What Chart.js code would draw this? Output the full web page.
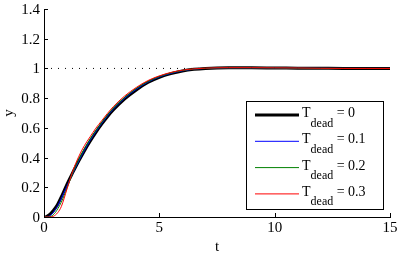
<!DOCTYPE html>
<html>
<head>
<meta charset="utf-8">
<script src="https://cdn.jsdelivr.net/npm/chart.js@4/dist/chart.umd.min.js"></script>
<style>
  html, body { margin: 0; padding: 0; background: #fff; }
  #wrap { width: 399px; height: 255px; }
</style>
</head>
<body>
<div id="wrap"><canvas id="c" width="399" height="255"></canvas></div>
<script>
// ---- data ----
const tValues = [0, 0.1, 0.2, 0.3, 0.4, 0.5, 0.6, 0.75, 1, 1.25, 1.5, 1.75, 2, 2.25, 2.5, 2.75, 3, 3.5, 4, 4.5, 5, 5.5, 6, 6.5, 7, 8, 9, 10, 11, 12, 13, 14, 15];
const yDead0  = [0, 0.003, 0.012, 0.025, 0.042, 0.063, 0.088, 0.135, 0.222, 0.3, 0.375, 0.445, 0.51, 0.57, 0.625, 0.675, 0.72, 0.795, 0.855, 0.905, 0.94, 0.965, 0.983, 0.994, 1.0, 1.004, 1.004, 1.003, 1.002, 1.001, 1.0, 1.0, 1.0];
const yDead01 = [0, 0, 0.004, 0.013, 0.03, 0.052, 0.078, 0.125, 0.21, 0.295, 0.375, 0.448, 0.515, 0.575, 0.63, 0.68, 0.725, 0.8, 0.86, 0.908, 0.943, 0.967, 0.984, 0.995, 1.0, 1.004, 1.004, 1.003, 1.002, 1.001, 1.0, 1.0, 1.0];
const yDead02 = [0, 0, 0, 0.004, 0.015, 0.032, 0.056, 0.1, 0.195, 0.3, 0.385, 0.46, 0.525, 0.583, 0.637, 0.687, 0.732, 0.806, 0.866, 0.912, 0.946, 0.97, 0.986, 0.996, 1.001, 1.004, 1.004, 1.003, 1.002, 1.001, 1.0, 1.0, 1.0];
const yDead03 = [0, 0, 0, 0, 0.004, 0.014, 0.03, 0.07, 0.19, 0.31, 0.405, 0.48, 0.54, 0.598, 0.648, 0.697, 0.742, 0.815, 0.872, 0.918, 0.95, 0.973, 0.988, 0.997, 1.002, 1.005, 1.005, 1.004, 1.003, 1.001, 1.0, 1.0, 1.0];
const deadTimes = ["0", "0.1", "0.2", "0.3"];
const referenceLevel = 1;
const xTickLabels = ["0", "5", "10", "15"];
const yTickLabels = ["0", "0.2", "0.4", "0.6", "0.8", "1", "1.2", "1.4"];

const seriesValues = [yDead0, yDead01, yDead02, yDead03];
const seriesColors = ["#000000", "#0000ff", "#008000", "#ff0000"];
const seriesWidths = [3, 1, 1, 1];

function toPoints(ys) { return tValues.map((t, i) => ({ x: t, y: ys[i] })); }

const FONT = "'Liberation Serif', 'Times New Roman', serif";

const datasets = seriesValues.map((ys, i) => ({
  label: 'T_dead = ' + deadTimes[i],
  data: toPoints(ys),
  borderColor: seriesColors[i],
  backgroundColor: seriesColors[i],
  borderWidth: seriesWidths[i],
  pointRadius: 0,
  cubicInterpolationMode: 'monotone',
  fill: false,
  order: 3 - i
}));
datasets.push({
  label: 'ref',
  data: [{ x: tValues[0], y: referenceLevel }, { x: tValues[tValues.length - 1], y: referenceLevel }],
  borderColor: '#000000',
  borderWidth: 1,
  borderDash: [1, 6],
  pointRadius: 0,
  fill: false,
  order: 10
});

// inward tick marks like the original figure
const inwardTicks = {
  id: 'inwardTicks',
  afterDraw(chart) {
    const ctx = chart.ctx;
    const xs = chart.scales.x, ys = chart.scales.y;
    const a = chart.chartArea;
    ctx.save();
    ctx.strokeStyle = '#000';
    ctx.lineWidth = 1;
    ctx.beginPath();
    xs.ticks.forEach(t => {
      const px = Math.round(xs.getPixelForValue(t.value)) + 0.5;
      ctx.moveTo(px, a.bottom);
      ctx.lineTo(px, a.bottom - 4);
    });
    ys.ticks.forEach(t => {
      const py = Math.round(ys.getPixelForValue(t.value)) + 0.5;
      ctx.moveTo(a.left, py);
      ctx.lineTo(a.left + 4, py);
    });
    ctx.stroke();
    ctx.restore();
  }
};

// legend with subscripts
const subLegend = {
  id: 'subLegend',
  afterDraw(chart) {
    const ctx = chart.ctx;
    const bx = 246.5, by = 101.5, bw = 137, bh = 108;
    ctx.save();
    ctx.fillStyle = '#fff';
    ctx.fillRect(bx, by, bw, bh);
    ctx.strokeStyle = '#000';
    ctx.lineWidth = 1;
    ctx.strokeRect(bx, by, bw, bh);
    const rowY0 = 115, rowStep = 26.3;
    deadTimes.forEach((d, i) => {
      const y = rowY0 + i * rowStep;
      ctx.beginPath();
      ctx.strokeStyle = seriesColors[i];
      ctx.lineWidth = seriesWidths[i];
      ctx.moveTo(255, y);
      ctx.lineTo(299, y);
      ctx.stroke();
      ctx.fillStyle = '#000';
      ctx.textBaseline = 'alphabetic';
      ctx.textAlign = 'left';
      ctx.font = '14px ' + FONT;
      let x = 302;
      ctx.fillText('T', x, y + 2);
      x += ctx.measureText('T').width;
      ctx.font = '12px ' + FONT;
      ctx.fillText('dead', x, y + 11.5);
      x += ctx.measureText('dead').width;
      ctx.font = '14px ' + FONT;
      ctx.fillText(' = ' + d, x, y + 2);
    });
    ctx.restore();
  }
};

new Chart(document.getElementById('c'), {
  type: 'line',
  data: { datasets },
  options: {
    responsive: false,
    devicePixelRatio: 1,
    animation: false,
    events: [],
    layout: { padding: { left: 0, right: 9, top: 9, bottom: 0 } },
    plugins: { legend: { display: false }, tooltip: { enabled: false } },
    scales: {
      x: {
        type: 'linear',
        min: 0, max: 15,
        afterFit(s) { s.height = 38; s.paddingLeft = 0; s.paddingRight = 0; },
        afterBuildTicks(s) { s.ticks = xTickLabels.map(v => ({ value: Number(v) })); },
        ticks: {
          callback: (v) => xTickLabels.find(l => Number(l) === v) ?? '',
          font: { family: FONT, size: 15 },
          color: '#000',
          padding: 2,
          maxRotation: 0
        },
        grid: { display: false, drawTicks: false },
        border: { display: true, color: '#000', width: 1 },
        title: { display: true, text: 't', color: '#000', font: { family: FONT, size: 15, lineHeight: 1 }, padding: { top: 0, bottom: 0 } }
      },
      y: {
        type: 'linear',
        min: 0, max: 1.4,
        afterFit(s) { s.width = 44; s.paddingTop = 0; s.paddingBottom = 0; },
        afterBuildTicks(s) { s.ticks = yTickLabels.map(v => ({ value: Number(v) })); },
        ticks: {
          callback: (v) => yTickLabels.find(l => Math.abs(Number(l) - v) < 1e-9) ?? '',
          font: { family: FONT, size: 15 },
          color: '#000',
          padding: 4,
          labelOffset: 1
        },
        grid: { display: false, drawTicks: false },
        border: { display: true, color: '#000', width: 1 },
        title: { display: true, text: 'y', color: '#000', font: { family: FONT, size: 15, lineHeight: 1.2 }, padding: { top: 0, bottom: 0 } }
      }
    }
  },
  plugins: [inwardTicks, subLegend]
});
</script>
</body>
</html>
